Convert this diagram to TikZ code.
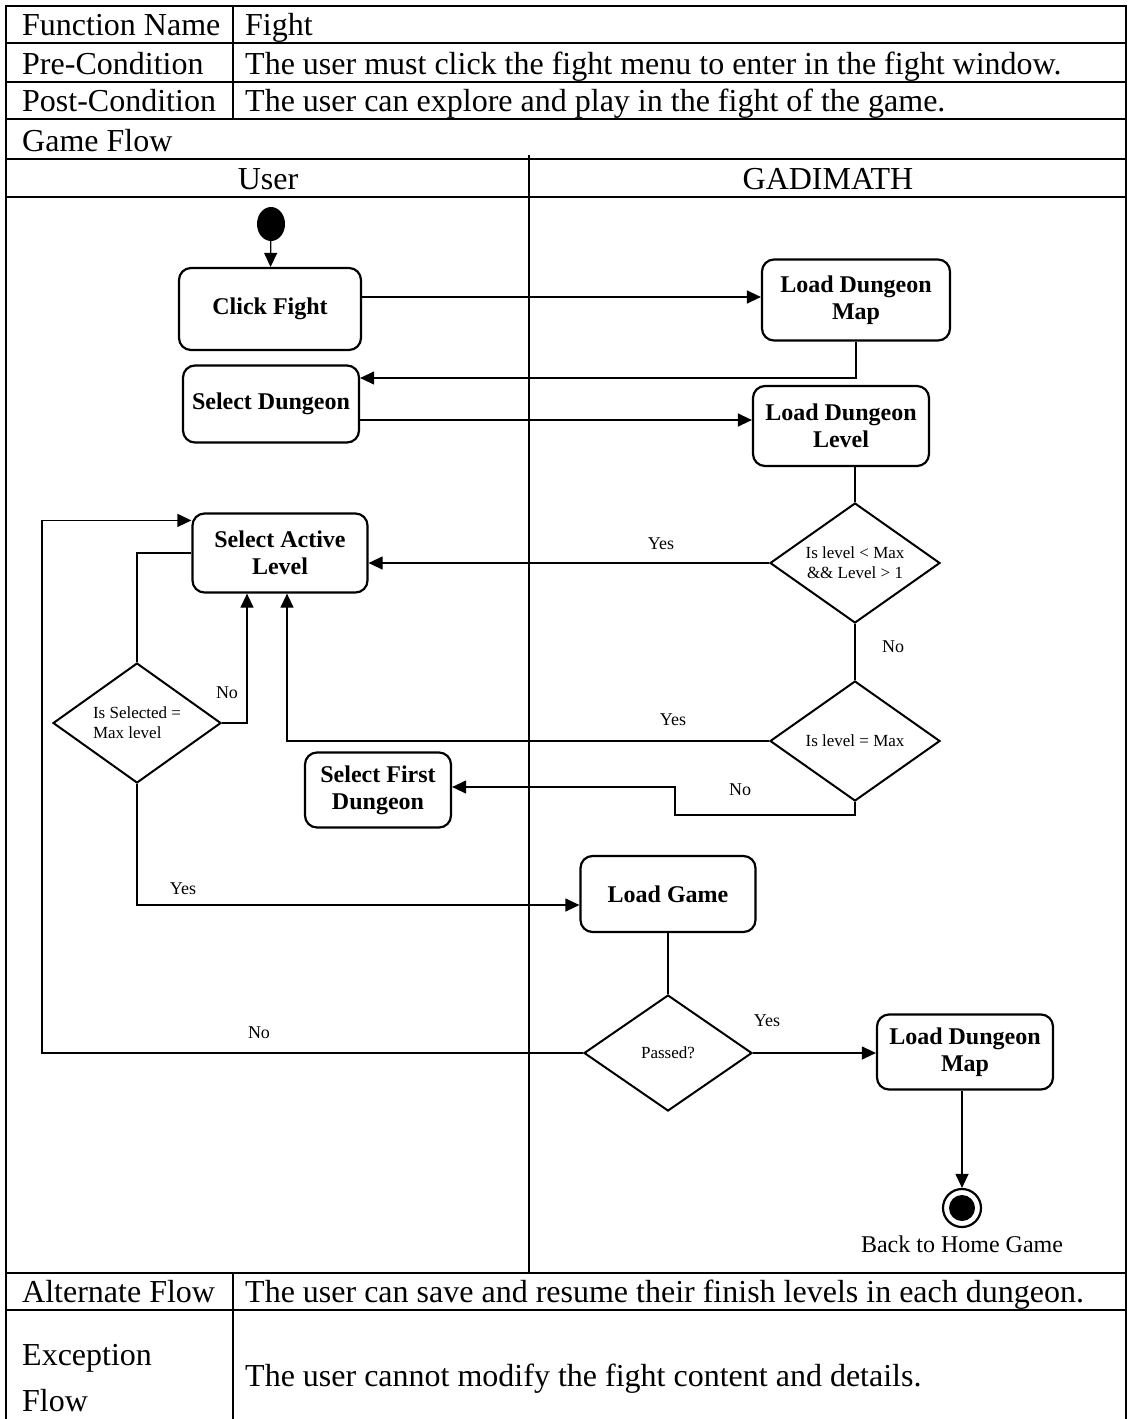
\documentclass[tikz,border=0pt]{standalone}
\usepackage{fontspec}
\setmainfont{Liberation Serif}
\usetikzlibrary{positioning,arrows.meta,shapes.geometric}

\begin{document}
\begin{tikzpicture}[x=1pt,y=-1pt,
      tab/.style={line width=2.2pt},
      cell/.style={anchor=base west,inner sep=0pt,font=\fontsize{32}{37}\selectfont},
      act/.style={draw,line width=2.2pt,rounded corners=12pt,align=center,inner sep=0pt,font=\fontsize{24}{27}\selectfont\bfseries},
      dec/.style={draw,diamond,aspect=1.42,line width=2pt,align=center,inner sep=0pt,minimum width=170pt,minimum height=120pt,font=\fontsize{17}{20}\selectfont},
      lbl/.style={inner sep=0pt,font=\fontsize{18}{20}\selectfont},
      flow/.style={line width=1.2pt},
      arr/.style={flow,-{Triangle[length=14pt,width=13pt]}}]
    \useasboundingbox (0,0) rectangle (1128,1419);

    % table frame
    \draw[tab] (6,1419) -- (6,6) -- (1126,6) -- (1126,1419);
    \foreach \y in {43,82,119,159,197,1273,1310}
      \draw[tab] (6,\y) -- (1126,\y);
    \draw[tab] (233,6) -- (233,119);
    \draw[tab] (233,1273) -- (233,1419);
    \draw[flow] (529,155) -- (529,1273);

    \node[cell] (fnk) at (22,35) {Function Name};
    \node[cell] (fnv) at (245,35) {Fight};
    \node[cell] (prek) at (22,74) {Pre-Condition};
    \node[cell] (prev) at (245,74) {The user must click the fight menu to enter in the fight window.};
    \node[cell] (postk) at (22,111) {Post-Condition};
    \node[cell] (postv) at (245,111) {The user can explore and play in the fight of the game.};
    \node[cell] (gflow) at (22,151) {Game Flow};
    \node[cell,anchor=base] (user) at (268,189) {User};
    \node[cell,anchor=base] (gadi) at (828,189) {GADIMATH};
    \node[cell] (altk) at (22,1302) {Alternate Flow};
    \node[cell] (altv) at (245,1302) {The user can save and resume their finish levels in each dungeon.};
    \node[cell,anchor=west,align=left,font=\fontsize{32}{46}\selectfont] (exck) at (22,1378) {Exception\\Flow};
    \node[cell] (excv) at (245,1386) {The user cannot modify the fight content and details.};

    % activity nodes
    \node[ellipse,fill,minimum width=28pt,minimum height=34pt,inner sep=0pt] (start) at (271,224) {};
    \node[act,minimum width=182pt,minimum height=82pt] (click) at (270,309) {Click Fight};
    \node[act,minimum width=188pt,minimum height=81pt] (ldm) at (856,300) {Load Dungeon\\Map};
    \node[act,minimum width=176pt,minimum height=77pt] (sd) at (271,404) {Select Dungeon};
    \node[act,minimum width=176pt,minimum height=80pt] (ldl) at (841,426) {Load Dungeon\\Level};
    \node[dec] (maxchk) at (855,563) {Is level {<} Max\\\&\& Level {>} 1};
    \node[act,minimum width=175pt,minimum height=79pt] (sal) at (280,553) {Select Active\\Level};
    \node[dec] (eqchk) at (855,741) {Is level = Max};
    \node[dec,minimum width=168pt,align=left] (selchk) at (137,723) {Is Selected =\\Max level};
    \node[act,minimum width=146pt,minimum height=75pt] (sfd) at (378,790) {Select First\\Dungeon};
    \node[act,minimum width=175pt,minimum height=76pt] (lg) at (668,894) {Load Game};
    \node[dec,minimum width=168pt,minimum height=116pt] (pass) at (668,1053) {Passed?};
    \node[act,minimum width=176pt,minimum height=75pt] (ldm2) at (965,1052) {Load Dungeon\\Map};
    \node[circle,draw,line width=2.2pt,minimum size=38pt,inner sep=0pt] (stop) at (962,1208) {};
    \fill (stop) circle (13);
    \node[below=4pt of stop,font=\fontsize{24}{27}\selectfont] (home) {Back to Home Game};

    \coordinate (jog) at (675,787);
    \coordinate (back) at (42,0);
    \coordinate (salin) at ([yshift=-8pt]sal.north west);

    % connectors
    \draw[arr] (start) -- (click);
    \draw[arr] ([yshift=12pt]click.east) -- ([yshift=12pt]click.east -| ldm.west);
    \draw[arr] (ldm.south) |- ([yshift=26pt]sd.east);
    \draw[arr] ([yshift=-16pt]sd.east) -- ([yshift=-16pt]sd.east -| ldl.west);
    \draw[flow] (ldl.south -| maxchk) -- (maxchk.north);
    \draw[arr] (maxchk.west) -- (maxchk.west -| sal.east);
    \draw[flow] (maxchk.south) -- (eqchk.north);
    \draw[arr] (eqchk.west) -| ([xshift=7pt]sal.south);
    \draw[arr] (eqchk.south) -- ++(0,13) -| (jog) -- (jog -| sfd.east);
    \draw[flow] (sal.west) -| (selchk.north);
    \draw[arr] (selchk.east) -| ([xshift=-33pt]sal.south);
    \draw[arr] (selchk.south) |- ([yshift=-11pt]lg.west);
    \draw[flow] (lg.south) -- (pass.north);
    \draw[arr] (pass.east) -- (pass.east -| ldm2.west);
    \draw[arr] (pass.west) -| (back |- salin) -- (salin);
    \draw[arr] (ldm2.south -| stop) -- (stop.north);

    \node[lbl] (y1) at (661,544) {Yes};
    \node[lbl] (n1) at (893,647) {No};
    \node[lbl] (y2) at (673,720) {Yes};
    \node[lbl] (n2) at (740,790) {No};
    \node[lbl] (n3) at (227,693) {No};
    \node[lbl] (y3) at (183,889) {Yes};
    \node[lbl] (n4) at (259,1033) {No};
    \node[lbl] (y4) at (767,1021) {Yes};
  \end{tikzpicture}
\end{document}
